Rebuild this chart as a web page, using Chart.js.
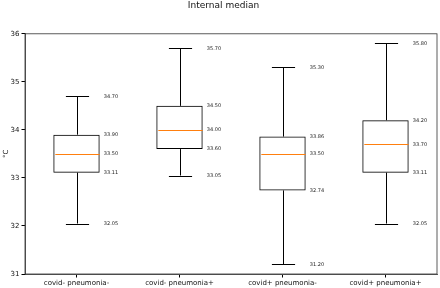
<!DOCTYPE html>
<html>
<head>
<meta charset="utf-8">
<script src="https://cdn.jsdelivr.net/npm/chart.js@4.4.1/dist/chart.umd.min.js"></script>
<style>
html,body{margin:0;padding:0;background:#fff;}
#wrap{width:440px;height:288px;}
</style>
</head>
<body>
<div id="wrap"><canvas id="c" width="440" height="288"></canvas></div>
<script>
const categories = ["covid- pneumonia-", "covid- pneumonia+", "covid+ pneumonia-", "covid+ pneumonia+"];
const whiskerLow = [32.05, 33.05, 31.20, 32.05];
const q1 = [33.11, 33.60, 32.74, 33.11];
const median = [33.50, 34.00, 33.50, 33.70];
const q3 = [33.90, 34.50, 33.86, 34.20];
const whiskerHigh = [34.70, 35.70, 35.30, 35.80];
const yTicks = [31, 32, 33, 34, 35, 36];

const FONT = "'DejaVu Sans', sans-serif";

const boxPlugin = {
  id: 'boxExtras',
  beforeDraw(chart) {
    const ctx = chart.ctx;
    ctx.save();
    ctx.fillStyle = '#fff';
    ctx.fillRect(0, 0, chart.width, chart.height);
    ctx.restore();
  },
  afterDatasetsDraw(chart) {
    const ctx = chart.ctx;
    const xs = chart.scales.x, ys = chart.scales.y;
    const step = xs.getPixelForValue(1) - xs.getPixelForValue(0);
    const boxW = step * 0.45;
    const capW = boxW / 2;
    ctx.save();
    ctx.lineWidth = 1;
    for (let i = 0; i < categories.length; i++) {
      const cx = Math.round(xs.getPixelForValue(i)) + 0.5;
      // whiskers
      ctx.strokeStyle = '#000';
      ctx.beginPath();
      ctx.moveTo(cx, ys.getPixelForValue(q3[i]));
      ctx.lineTo(cx, ys.getPixelForValue(whiskerHigh[i]));
      ctx.moveTo(cx, ys.getPixelForValue(q1[i]));
      ctx.lineTo(cx, ys.getPixelForValue(whiskerLow[i]));
      ctx.stroke();
      // caps
      ctx.beginPath();
      const yh = Math.round(ys.getPixelForValue(whiskerHigh[i])) + 0.5;
      const yl = Math.round(ys.getPixelForValue(whiskerLow[i])) + 0.5;
      ctx.moveTo(cx - capW / 2, yh); ctx.lineTo(cx + capW / 2, yh);
      ctx.moveTo(cx - capW / 2, yl); ctx.lineTo(cx + capW / 2, yl);
      ctx.stroke();
      // median
      ctx.strokeStyle = '#ff7f0e';
      ctx.beginPath();
      const ym = Math.round(ys.getPixelForValue(median[i])) + 0.5;
      ctx.moveTo(cx - boxW / 2 + 1, ym); ctx.lineTo(cx + boxW / 2 - 1, ym);
      ctx.stroke();
      // labels
      ctx.fillStyle = '#222';
      ctx.font = "5px " + FONT;
      ctx.textAlign = 'left';
      ctx.textBaseline = 'middle';
      const lx = xs.getPixelForValue(i) + step * 0.265;
      [whiskerLow[i], q1[i], median[i], q3[i], whiskerHigh[i]].forEach(v => {
        ctx.fillText(v.toFixed(2), lx, ys.getPixelForValue(v));
      });
    }
    // frame
    const a = chart.chartArea;
    ctx.strokeStyle = '#333';
    ctx.lineWidth = 0.8;
    ctx.strokeRect(a.left, a.top, a.right - a.left, a.bottom - a.top);
    ctx.restore();
  }
};

new Chart(document.getElementById('c'), {
  type: 'bar',
  data: {
    labels: categories,
    datasets: [{
      data: categories.map((_, i) => [q1[i], q3[i]]),
      backgroundColor: 'rgba(255,255,255,0)',
      borderColor: '#000',
      borderWidth: 1,
      borderSkipped: false,
      barPercentage: 0.45,
      categoryPercentage: 1
    }]
  },
  options: {
    responsive: false,
    animation: false,
    events: [],
    layout: { padding: { left: 10, right: 3, top: 0, bottom: 0 } },
    plugins: {
      legend: { display: false },
      tooltip: { enabled: false },
      title: {
        display: true,
        text: 'Internal median',
        color: '#111',
        font: { family: FONT, size: 9, weight: 'normal' },
        padding: { top: 0, bottom: 23 }
      }
    },
    scales: {
      x: {
        type: 'category',
        offset: true,
        grid: { offset: false, drawOnChartArea: false, drawTicks: true, tickLength: 3.5, color: '#000' },
        border: { display: true, color: '#333', width: 0.8 },
        ticks: { color: '#111', font: { family: FONT, size: 7 }, padding: 1, maxRotation: 0, autoSkip: false },
        afterFit(s) { s.height = 14; }
      },
      y: {
        min: 31, max: 36,
        afterBuildTicks(s) { s.ticks = yTicks.map(v => ({ value: v })); },
        grid: { drawOnChartArea: false, drawTicks: true, tickLength: 3.5, color: '#000' },
        border: { display: true, color: '#333', width: 0.8 },
        ticks: { color: '#111', font: { family: FONT, size: 7 }, padding: 2 },
        title: { display: true, text: '°C', color: '#111', font: { family: FONT, size: 7 }, padding: { top: -8, bottom: 0 } },
        afterFit(s) { s.width = 15; }
      }
    }
  },
  plugins: [boxPlugin]
});
</script>
</body>
</html>
